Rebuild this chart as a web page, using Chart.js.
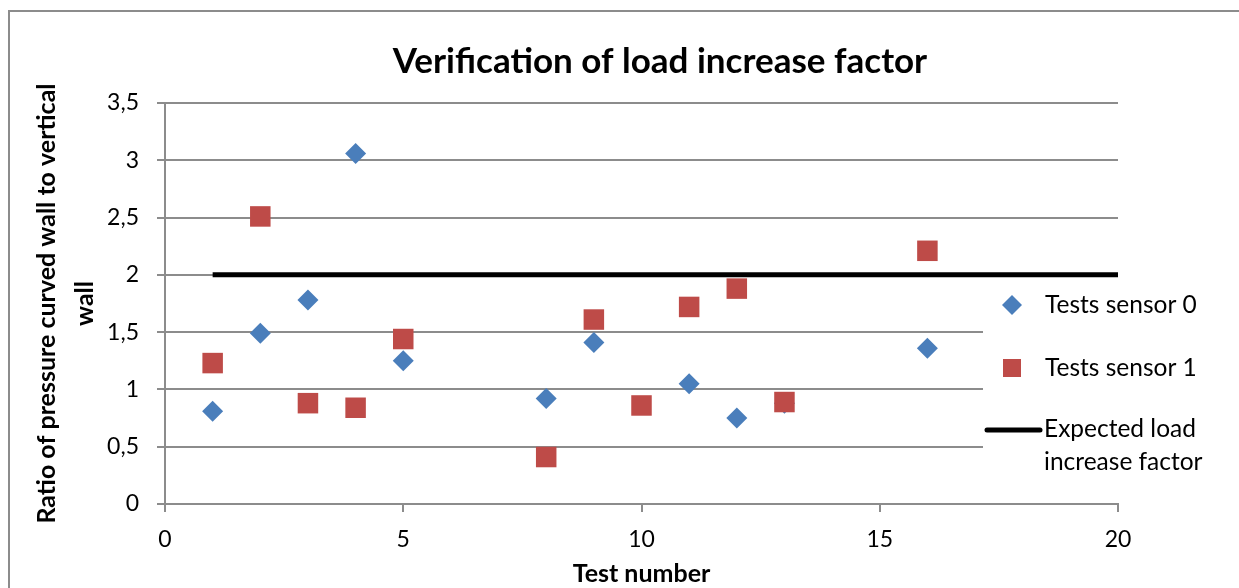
<!DOCTYPE html>
<html>
<head>
<meta charset="utf-8">
<script src="https://cdn.jsdelivr.net/npm/chart.js@4.4.0/dist/chart.umd.min.js"></script>
<style>
  html, body { margin: 0; padding: 0; background: #fff; }
  #wrap { width: 1239px; height: 588px; }
</style>
</head>
<body>
<div id="wrap"><canvas id="loadChart" width="1239" height="588"></canvas></div>
<script>
// test numbers and measured ratios
const sensor0X = [1, 2, 3, 4, 5, 8, 9, 11, 12, 13, 16];
const sensor0Y = [0.81, 1.49, 1.78, 3.06, 1.25, 0.92, 1.41, 1.05, 0.75, 0.88, 1.36];
const sensor1X = [1, 2, 3, 4, 5, 8, 9, 10, 11, 12, 13, 16];
const sensor1Y = [1.23, 2.51, 0.88, 0.84, 1.44, 0.41, 1.61, 0.86, 1.72, 1.88, 0.89, 2.21];
// expected load increase factor
const expectedX = [1, 20];
const expectedY = [2, 2];

const seriesNames = ['Tests sensor 0', 'Tests sensor 1', ['Expected load', 'increase factor']];
const chartTitle = 'Verification of load increase factor';
const xTitle = 'Test number';
const yTitle = ['Ratio of pressure curved wall to vertical', 'wall'];

const FONT = 'Lato, "Open Sans", sans-serif';
const GRAY = '#8c8c8c';

function toPoints(xs, ys) {
  return xs.map((x, i) => ({ x: x, y: ys[i] }));
}

// outer frame + title
const frameAndTitle = {
  id: 'frameAndTitle',
  beforeDraw(chart) {
    const ctx = chart.ctx;
    ctx.save();
    ctx.fillStyle = '#fff';
    ctx.fillRect(0, 0, chart.width, chart.height);
    ctx.strokeStyle = GRAY;
    ctx.lineWidth = 2;
    ctx.beginPath();
    ctx.moveTo(9, chart.height);
    ctx.lineTo(9, 11);
    ctx.lineTo(chart.width, 11);
    ctx.stroke();
    ctx.restore();
  },
  afterDraw(chart) {
    const ctx = chart.ctx;
    ctx.save();
    ctx.fillStyle = '#000';
    ctx.font = 'bold 35px ' + FONT;
    ctx.textAlign = 'center';
    ctx.textBaseline = 'middle';
    ctx.fillText(chartTitle, 660, 62);
    ctx.restore();
  }
};

// legend box on the right, over the plot
const sideLegend = {
  id: 'sideLegend',
  afterDatasetsDraw(chart) {
    const ctx = chart.ctx;
    const ds = chart.data.datasets;
    ctx.save();
    ctx.fillStyle = '#fff';
    ctx.fillRect(983, 283, 256, 200);
    ctx.font = '24.5px ' + FONT;
    ctx.textBaseline = 'middle';
    ctx.textAlign = 'left';

    // diamond
    ctx.fillStyle = ds[0].backgroundColor;
    ctx.beginPath();
    ctx.moveTo(1012, 295);
    ctx.lineTo(1022, 305);
    ctx.lineTo(1012, 315);
    ctx.lineTo(1002, 305);
    ctx.closePath();
    ctx.fill();
    ctx.fillStyle = '#000';
    ctx.fillText(ds[0].label, 1045, 305);

    // square
    ctx.fillStyle = ds[1].backgroundColor;
    ctx.fillRect(1003, 359, 18, 18);
    ctx.fillStyle = '#000';
    ctx.fillText(ds[1].label, 1045, 368);

    // line
    ctx.strokeStyle = ds[2].borderColor;
    ctx.lineWidth = 5;
    ctx.lineCap = 'round';
    ctx.beginPath();
    ctx.moveTo(987, 430);
    ctx.lineTo(1040, 430);
    ctx.stroke();
    ctx.fillStyle = '#000';
    ctx.fillText(ds[2].label[0], 1044, 429);
    ctx.fillText(ds[2].label[1], 1044, 462);
    ctx.restore();
  }
};

const ctx = document.getElementById('loadChart').getContext('2d');
const chart = new Chart(ctx, {
  type: 'scatter',
  data: {
    datasets: [
      {
        label: seriesNames[0],
        data: toPoints(sensor0X, sensor0Y),
        pointStyle: 'rectRot',
        pointRadius: 10.5,
        pointHoverRadius: 10.5,
        backgroundColor: '#4a7ebb',
        borderColor: '#4a7ebb',
        borderWidth: 0,
        order: 2
      },
      {
        label: seriesNames[1],
        data: toPoints(sensor1X, sensor1Y),
        pointStyle: 'rect',
        pointRadius: 14.5,
        pointHoverRadius: 14.5,
        backgroundColor: '#be4b48',
        borderColor: '#be4b48',
        borderWidth: 0,
        order: 1
      },
      {
        label: seriesNames[2],
        data: toPoints(expectedX, expectedY),
        showLine: true,
        pointRadius: 0,
        borderColor: '#000',
        borderWidth: 5,
        order: 0
      }
    ]
  },
  options: {
    responsive: false,
    animation: false,
    layout: {
      padding: { left: 18, right: 121, top: 103, bottom: 0 }
    },
    plugins: {
      legend: { display: false },
      tooltip: { enabled: false }
    },
    scales: {
      x: {
        type: 'linear',
        min: 0,
        max: 20,
        ticks: {
          stepSize: 5,
          color: '#000',
          padding: 14,
          font: { family: FONT, size: 23 }
        },
        grid: {
          drawOnChartArea: false,
          drawTicks: true,
          tickLength: 8,
          color: GRAY,
          lineWidth: 2
        },
        border: { color: GRAY, width: 2 },
        title: {
          display: true,
          text: xTitle,
          color: '#000',
          padding: { top: 0, bottom: 0 },
          font: { family: FONT, size: 25, weight: 'bold', lineHeight: 1.1 }
        },
        afterFit(scale) { scale.height = 84; }
      },
      y: {
        min: 0,
        max: 3.5,
        ticks: {
          stepSize: 0.5,
          color: '#000',
          padding: 18,
          font: { family: FONT, size: 23 },
          callback: (v) => String(v).replace('.', ',')
        },
        grid: {
          color: GRAY,
          lineWidth: 2,
          drawTicks: true,
          tickLength: 8
        },
        border: { color: GRAY, width: 2 },
        title: {
          display: true,
          text: yTitle,
          color: '#000',
          padding: { top: 10, bottom: 0 },
          font: { family: FONT, size: 25, weight: 'bold', lineHeight: 38 / 25 }
        },
        afterFit(scale) { scale.width = 147; }
      }
    }
  },
  plugins: [frameAndTitle, sideLegend]
});
</script>
</body>
</html>
